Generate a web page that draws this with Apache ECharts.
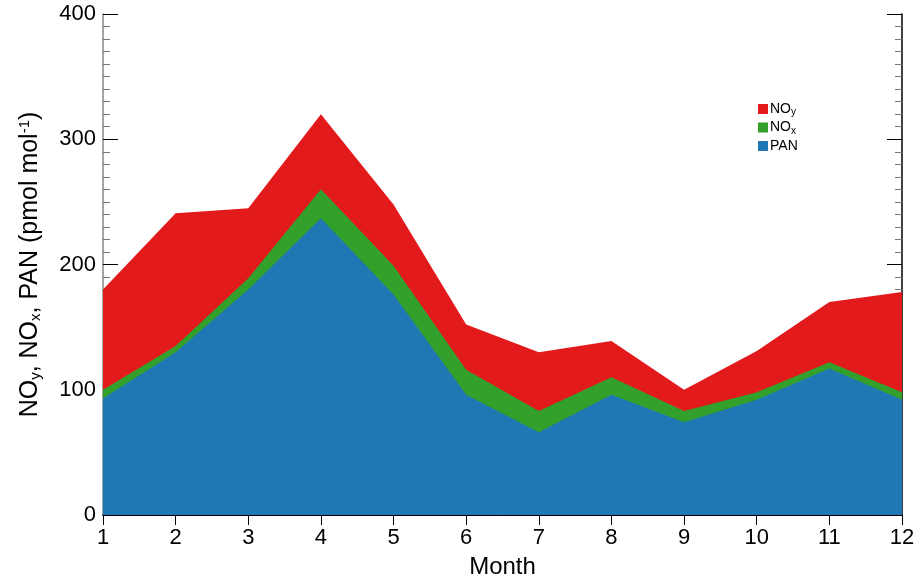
<!DOCTYPE html>
<html><head><meta charset="utf-8">
<script src="https://cdn.jsdelivr.net/npm/echarts@6/dist/echarts.min.js"></script>
<style>html,body{margin:0;padding:0;background:#fff}#c{width:917px;height:577px}</style>
</head><body><div id="c"></div>
<script>
const months = [1,2,3,4,5,6,7,8,9,10,11,12];
const noy = [180,241,245,320,248,152,130,139,100,131,170,178];
const pan = [93,130,180,237,176,96,66,96,74,92,117,92];
const nox = [7,5,9,23,23,20,17,14,9,6,5,6];
const yTicks = [0,100,200,300,400];

const pts = a => a.map((v,i)=>[months[i], v]);
const panNox = pan.map((v,i)=>v + nox[i]);
const FONT = '"Liberation Sans", Arial, sans-serif';
const chart = echarts.init(document.getElementById('c'));
chart.setOption({
  animation:false,
  grid:{left:103,right:15,top:14,bottom:62, outerBoundsMode:'none', containLabel:false},
  legend:{
    left:753, top:97, orient:'vertical', itemGap:3, itemWidth:10, itemHeight:10, icon:'rect',
    data:['NOy','NOx','PAN'],
    formatter: n => n==='NOy' ? 'NO{s|y}' : n==='NOx' ? 'NO{s|x}' : 'PAN',
    textStyle:{fontFamily:FONT, fontSize:14, color:'#000', padding:[0,0,0,-3],
      rich:{s:{fontSize:10, fontFamily:FONT, color:'#000', verticalAlign:'bottom', padding:[7,0,0,0]}}}
  },
  xAxis:[{
    type:'value', min:1, max:12, interval:1, position:'bottom',
    name:'Month', nameLocation:'middle', nameGap:40,
    nameTextStyle:{fontFamily:FONT, fontSize:24, color:'#000'},
    axisLine:{lineStyle:{color:'#000', width:1}},
    axisTick:{show:false},
    axisLabel:{fontFamily:FONT, fontSize:22, color:'#000', margin:12},
    splitLine:{show:false}
  },{
    type:'value', min:1, max:12, interval:1, position:'top',
    axisLine:{lineStyle:{color:'#000', width:1.5}},
    axisTick:{show:true, inside:true, length:10, lineStyle:{color:'#000'}},
    axisLabel:{show:false}, splitLine:{show:false}
  }],
  yAxis:[{
    type:'value', min:0, max:400, interval:100, position:'left',
    name:'NO{s|y}, NO{s|x}, PAN (pmol mol{p|-1})', nameLocation:'middle', nameGap:60, nameRotate:90,
    nameTextStyle:{fontFamily:FONT, fontSize:25, color:'#000',
      rich:{s:{fontSize:15, fontFamily:FONT, color:'#000', verticalAlign:'bottom', padding:[11,0,0,0]},
            p:{fontSize:15, fontFamily:FONT, color:'#000', verticalAlign:'top', padding:[0,0,9,0]}}},
    axisLine:{lineStyle:{color:'#888', width:1.5}},
    axisTick:{show:true, inside:true, length:15, lineStyle:{color:'#000'}},
    minorTick:{show:true, splitNumber:10, length:7, lineStyle:{color:'#777'}},
    axisLabel:{fontFamily:FONT, fontSize:22, color:'#000', margin:7,
      formatter: v => yTicks.includes(v) ? String(v) : ''},
    splitLine:{show:false}
  },{
    type:'value', min:0, max:400, interval:100, position:'right',
    axisLine:{show:true, lineStyle:{color:'#000', width:1.5}},
    axisTick:{show:true, inside:true, length:15, lineStyle:{color:'#000'}},
    minorTick:{show:true, splitNumber:10, length:7, lineStyle:{color:'#777'}},
    axisLabel:{show:false}, splitLine:{show:false}
  }],
  series:[
    {name:'NOy', type:'line', data:pts(noy), symbol:'none', lineStyle:{width:0},
     areaStyle:{color:'#e31a1c', opacity:1}, itemStyle:{color:'#e31a1c'}},
    {name:'NOx', type:'line', data:pts(panNox), symbol:'none', lineStyle:{width:0},
     areaStyle:{color:'#33a02c', opacity:1}, itemStyle:{color:'#33a02c'}},
    {name:'PAN', type:'line', data:pts(pan), symbol:'none', lineStyle:{width:0},
     areaStyle:{color:'#1f78b4', opacity:1}, itemStyle:{color:'#1f78b4'}}
  ]
});
</script></body></html>
